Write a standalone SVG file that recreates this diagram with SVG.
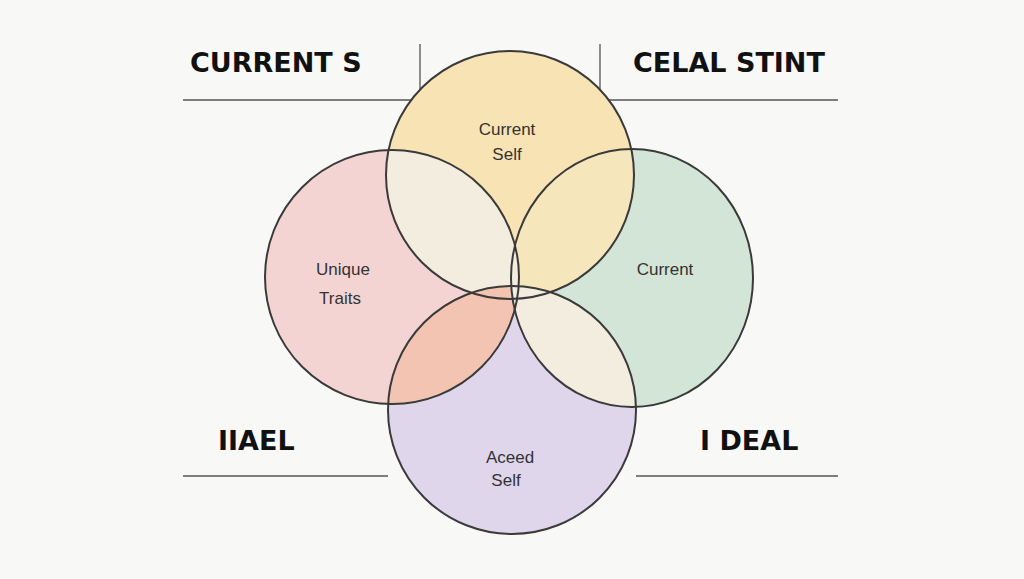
<svg xmlns="http://www.w3.org/2000/svg" width="1024" height="579" viewBox="0 0 1024 579">
<style>
.h{font-family:"DejaVu Sans",Arial,sans-serif;font-weight:bold;font-size:27px;fill:#111}
.t{font-family:"Liberation Sans",Arial,sans-serif;font-size:17px;fill:#333;text-anchor:middle}
.l{stroke:#555;stroke-width:1.3;fill:none}
.o{fill:none;stroke:#3a3a3a;stroke-width:2}
</style>
<defs>
<clipPath id="cp"><circle cx="392" cy="277" r="127"/></clipPath>
<clipPath id="cg"><ellipse cx="632" cy="278" rx="121" ry="129"/></clipPath>
<clipPath id="cy"><circle cx="510" cy="175" r="124"/></clipPath>
</defs>
<rect width="1024" height="579" fill="#f8f8f7"/>
<g id="connectors">
<path class="l" d="M183 100H420V44M600 44V100H838M183 476H388M636 476H838"/>
</g>
<g id="pink"><circle cx="392" cy="277" r="127" fill="#f4d3d3"/></g>
<g id="green"><ellipse cx="632" cy="278" rx="121" ry="129" fill="#d2e5d6"/></g>
<g id="purple"><circle cx="512" cy="410" r="124" fill="#dfd6ec"/></g>
<g id="yellow"><circle cx="510" cy="175" r="124" fill="#f7e3b4"/></g>
<g id="overlaps">
<circle cx="510" cy="175" r="124" fill="#f3ede0" clip-path="url(#cp)"/>
<circle cx="510" cy="175" r="124" fill="#f6e6bc" clip-path="url(#cg)"/>
<circle cx="512" cy="410" r="124" fill="#f4c4b2" clip-path="url(#cp)"/>
<circle cx="512" cy="410" r="124" fill="#f3ede0" clip-path="url(#cg)"/>
<g clip-path="url(#cy)"><circle cx="392" cy="277" r="127" fill="#f3ede0" clip-path="url(#cg)"/></g>
</g>
<g id="outlines">
<circle class="o" cx="392" cy="277" r="127"/><ellipse class="o" cx="632" cy="278" rx="121" ry="129"/><circle class="o" cx="512" cy="410" r="124"/><circle class="o" cx="510" cy="175" r="124"/>
</g>
<text class="h" x="190" y="72">CURRENT S</text>
<text class="h" x="633" y="72">CELAL STINT</text>
<text class="h" x="218" y="450">IIAEL</text>
<text class="h" x="700" y="450">I DEAL</text>
<text class="t" x="507" y="135">Current</text>
<text class="t" x="507" y="160">Self</text>
<text class="t" x="343" y="275">Unique</text>
<text class="t" x="340" y="304">Traits</text>
<text class="t" x="665" y="275">Current</text>
<text class="t" x="510" y="463">Aceed</text>
<text class="t" x="506" y="486">Self</text>
</svg>
